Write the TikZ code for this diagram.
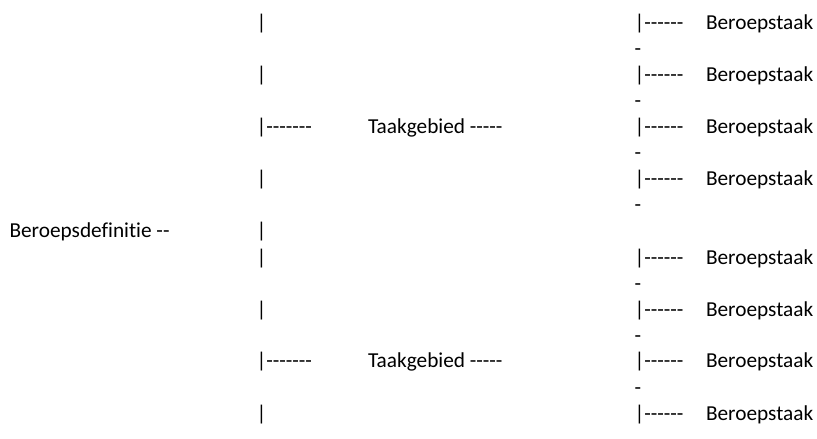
\documentclass[tikz,border=0pt]{standalone}
\usepackage{fontspec}
\newfontfamily\calfont{Carlito}[Ligatures={NoCommon,NoContextual,NoRequired}]
\begin{document}
\begin{tikzpicture}[x=1bp,y=-1bp,
  txt/.style={anchor=base west,inner sep=0pt,outer sep=0pt,font=\calfont\fontsize{21.3bp}{26bp}\selectfont}]
\useasboundingbox[fill=white] (0,0) rectangle (817,439);
% column x positions
\def\xa{9.5}\def\xb{256.5}\def\xc{368}\def\xd{634.5}\def\xe{706}
% left column
\node[txt] (def) at (\xa,238) {Beroepsdefinitie -{}-};
\node[txt] (l1) at (\xb,29.5) {|};
\node[txt] (l2) at (\xb,81.5) {|};
\node[txt] (l3) at (\xb,133.5) {|-{}-{}-{}-{}-{}-{}-};
\node[txt] (l4) at (\xb,185.5) {|};
\node[txt] (l5) at (\xb,238) {|};
\node[txt] (l6) at (\xb,264.5) {|};
\node[txt] (l7) at (\xb,316.5) {|};
\node[txt] (l8) at (\xb,368) {|-{}-{}-{}-{}-{}-{}-};
\node[txt] (l9) at (\xb,420) {|};
% task areas
\node[txt] (tg1) at (\xc,133.5) {Taakgebied -{}-{}-{}-{}-};
\node[txt] (tg2) at (\xc,368) {Taakgebied -{}-{}-{}-{}-};
% right column
\foreach \i/\y in {1/29.5,2/81.5,3/133.5,4/185.5,5/264.5,6/316.5,7/368,8/420}{
  \node[txt] (r\i) at (\xd,\y) {|-{}-{}-{}-{}-{}-};
  \node[txt] (b\i) at (\xe,\y) {Beroepstaak};
}
\foreach \i/\y in {1/55.5,2/107.5,3/159.5,4/211.5,5/290.5,6/342.5,7/394}{
  \node[txt] (d\i) at (\xd,\y) {-};
}
\end{tikzpicture}
\end{document}
